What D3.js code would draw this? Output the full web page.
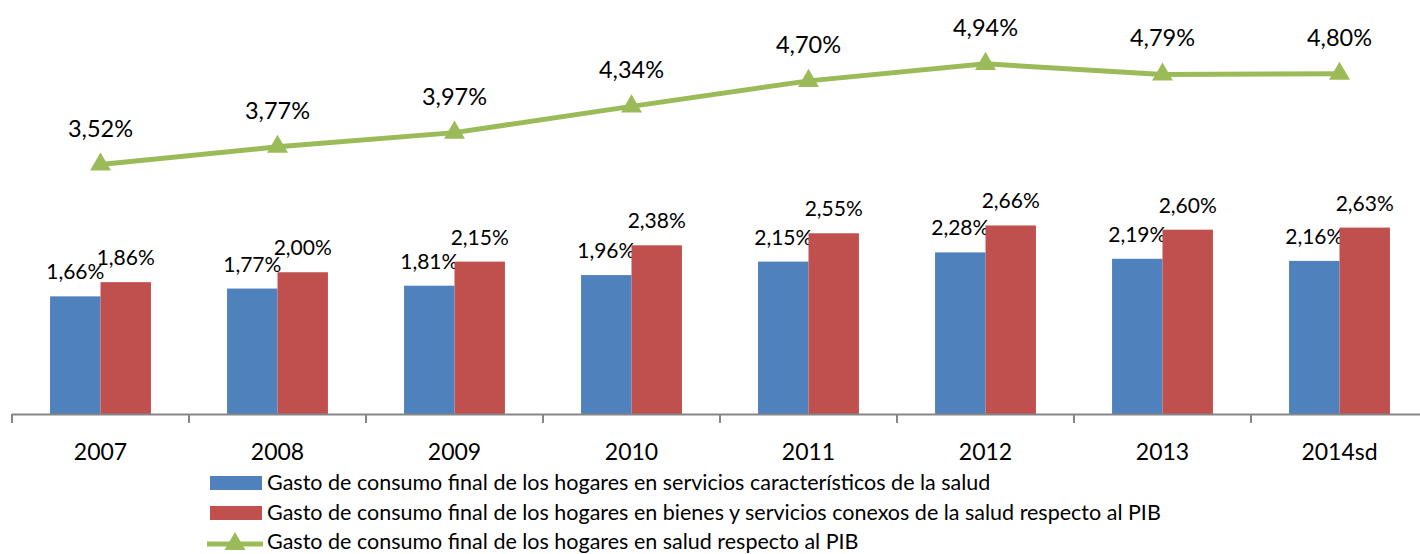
<!DOCTYPE html>
<html>
<head>
<meta charset="utf-8">
<script src="https://cdn.jsdelivr.net/npm/d3@7"></script>
<style>
  body { margin:0; background:#fff; }
  #canvas { width:1420px; height:554px; overflow:hidden; }
  text { font-family: Lato, "Open Sans", sans-serif; fill:#000; }
</style>
</head>
<body>
<div id="canvas" class="canvas"></div>
<script>
// ---- DATA ----
var years = ['2007','2008','2009','2010','2011','2012','2013','2014sd'];
var servicios = [1.66, 1.77, 1.81, 1.96, 2.15, 2.28, 2.19, 2.16];
var bienes = [1.86, 2.00, 2.15, 2.38, 2.55, 2.66, 2.60, 2.63];
var totalSalud = [3.52, 3.77, 3.97, 4.34, 4.70, 4.94, 4.79, 4.80];
var seriesNames = [
    'Gasto de consumo final de los hogares en servicios característicos de la salud',
    'Gasto de consumo final de los hogares en bienes y servicios conexos de la salud respecto al PIB',
    'Gasto de consumo final de los hogares en salud respecto al PIB'
];
var colors = ['#4F81BD', '#C0504D', '#9BBB59'];

// ---- CONVENTIONS ----
var outerWidth = 1420,
    outerHeight = 554;

var svg = d3.select('.canvas')
    .append('svg')
    .attr('width', outerWidth)
    .attr('height', outerHeight);

var locale = d3.formatLocale({decimal: ',', thousands: '.', grouping: [3], currency: ['', '']});
var fmt = function(v){ return locale.format('.2f')(v) + '%'; };

// ---- SCALES ----
var scaleX = d3.scaleBand()
    .domain(years)
    .range([12, 1428]);

var bw = scaleX.bandwidth();
var scaleSub = d3.scaleBand()
    .domain(['servicios', 'bienes'])
    .range([bw * 0.215, bw * 0.785]);

var scaleY = d3.scaleLinear()
    .domain([0, 5.7])
    .range([414, 10]);

// ---- BARS ----
var barSeries = [
    {key: 'servicios', values: servicios, color: colors[0]},
    {key: 'bienes', values: bienes, color: colors[1]}
];

barSeries.forEach(function(s){
    var g = svg.append('g').attr('class', 'bars-' + s.key);
    g.selectAll('rect')
        .data(s.values)
        .enter()
        .append('rect')
        .attr('x', function(d, i){ return scaleX(years[i]) + scaleSub(s.key); })
        .attr('y', function(d){ return scaleY(d); })
        .attr('width', scaleSub.bandwidth())
        .attr('height', function(d){ return scaleY(0) - scaleY(d); })
        .style('fill', s.color);

    g.selectAll('text')
        .data(s.values)
        .enter()
        .append('text')
        .attr('x', function(d, i){ return scaleX(years[i]) + scaleSub(s.key) + scaleSub.bandwidth() / 2; })
        .attr('y', function(d){ return scaleY(d) - 17; })
        .attr('text-anchor', 'middle')
        .style('font-size', '21px')
        .text(fmt);
});

// ---- AXIS ----
var axisG = svg.append('g').attr('class', 'axis axis-x');
axisG.append('line')
    .attr('x1', scaleX.range()[0])
    .attr('x2', scaleX.range()[1])
    .attr('y1', scaleY(0) + 0.5)
    .attr('y2', scaleY(0) + 0.5)
    .style('stroke', '#868686')
    .style('stroke-width', 2);

axisG.selectAll('.tick-mark')
    .data(years.concat(['end']))
    .enter()
    .append('line')
    .attr('class', 'tick-mark')
    .attr('x1', function(d){ return d === 'end' ? scaleX.range()[1] : scaleX(d); })
    .attr('x2', function(d){ return d === 'end' ? scaleX.range()[1] : scaleX(d); })
    .attr('y1', scaleY(0))
    .attr('y2', scaleY(0) + 9)
    .style('stroke', '#868686')
    .style('stroke-width', 2);

axisG.selectAll('.tick-label')
    .data(years)
    .enter()
    .append('text')
    .attr('class', 'tick-label')
    .attr('x', function(d){ return scaleX(d) + bw / 2; })
    .attr('y', 460)
    .attr('text-anchor', 'middle')
    .style('font-size', '23px')
    .text(function(d){ return d; });

// ---- LINE ----
var lineGenerator = d3.line()
    .x(function(d, i){ return scaleX(years[i]) + bw / 2; })
    .y(function(d){ return scaleY(d); });

var triangle = d3.symbol().type(d3.symbolTriangle).size(190);

var lineG = svg.append('g').attr('class', 'line-total');
lineG.append('path')
    .datum(totalSalud)
    .attr('d', lineGenerator)
    .style('fill', 'none')
    .style('stroke', colors[2])
    .style('stroke-width', 5);

lineG.selectAll('path.marker')
    .data(totalSalud)
    .enter()
    .append('path')
    .attr('class', 'marker')
    .attr('d', triangle)
    .attr('transform', function(d, i){
        return 'translate(' + (scaleX(years[i]) + bw / 2) + ',' + scaleY(d) + ')';
    })
    .style('fill', colors[2]);

lineG.selectAll('text')
    .data(totalSalud)
    .enter()
    .append('text')
    .attr('x', function(d, i){ return scaleX(years[i]) + bw / 2; })
    .attr('y', function(d){ return scaleY(d) - 28; })
    .attr('text-anchor', 'middle')
    .style('font-size', '23.5px')
    .text(fmt);

// ---- LEGEND ----
var legend = svg.append('g').attr('class', 'legend')
    .attr('transform', 'translate(210,0)');

var legendY = [490, 520, 549];

var legendRows = legend.selectAll('g')
    .data(seriesNames)
    .enter()
    .append('g')
    .attr('transform', function(d, i){ return 'translate(0,' + legendY[i] + ')'; });

legendRows.each(function(d, i){
    var row = d3.select(this);
    if (i < 2) {
        row.append('rect')
            .attr('x', 0)
            .attr('y', -14)
            .attr('width', 52)
            .attr('height', 14)
            .style('fill', colors[i]);
    } else {
        row.append('line')
            .attr('x1', -3).attr('x2', 53)
            .attr('y1', -5).attr('y2', -5)
            .style('stroke', colors[2])
            .style('stroke-width', 5);
        row.append('path')
            .attr('d', triangle)
            .attr('transform', 'translate(25,-5)')
            .style('fill', colors[2]);
    }
    row.append('text')
        .attr('x', 57)
        .attr('y', 0)
        .style('font-size', '21.5px')
        .text(d);
});
</script>
</body>
</html>
